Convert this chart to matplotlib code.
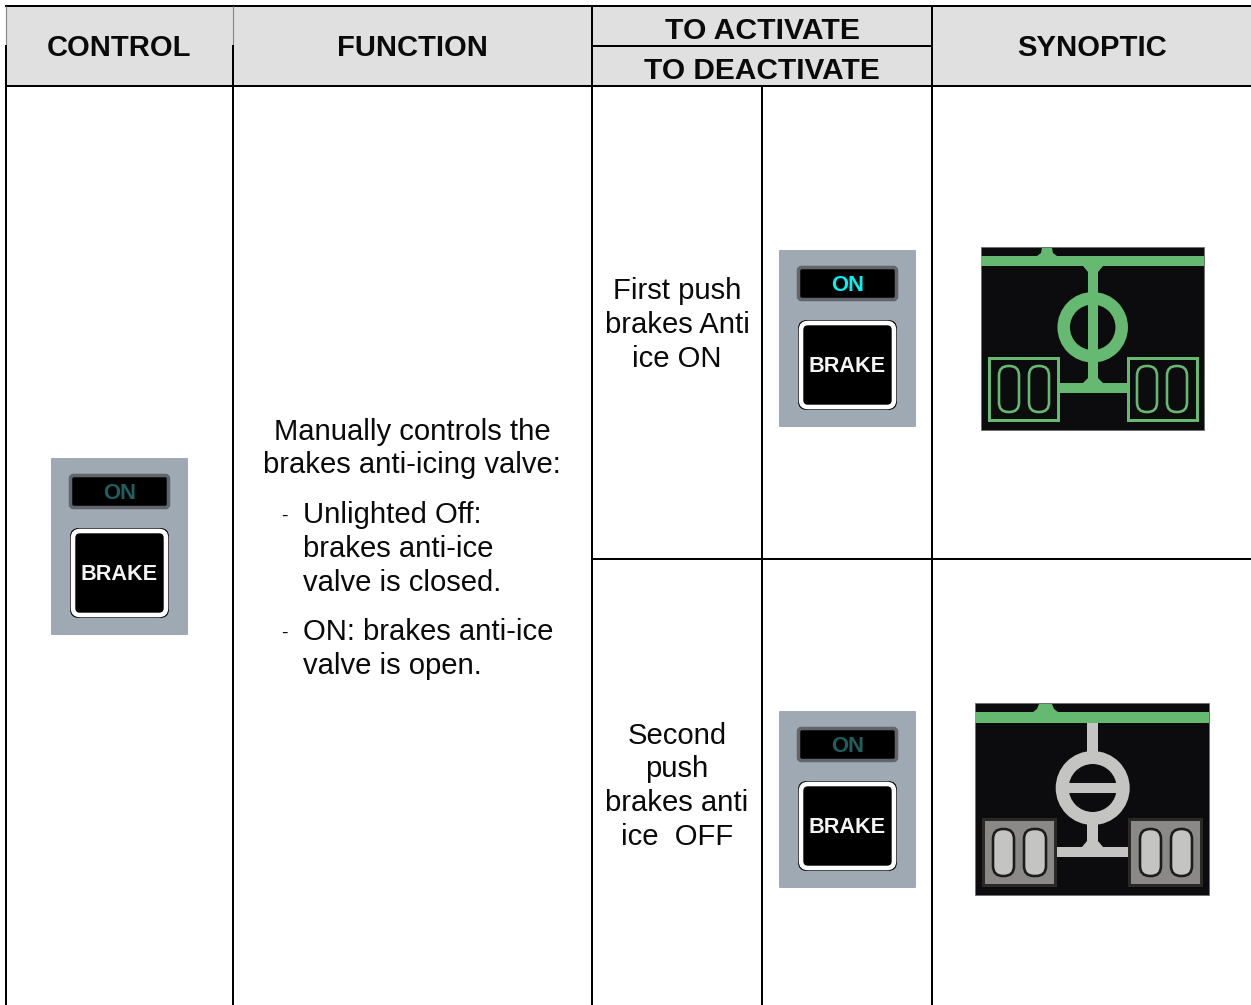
import matplotlib
matplotlib.use("Agg")
import matplotlib.pyplot as plt
from matplotlib.patches import Rectangle, FancyBboxPatch, Circle, Polygon

plt.rcParams['font.family'] = ['Liberation Sans', 'DejaVu Sans']

W, H = 1251, 1005
BLACK = '#000000'
HEAD_BG = '#e0e0e0'
GREEN = '#66b970'
GREY = '#c4c4c2'
DARK = '#0c0c0e'
PANEL = '#9fa9b3'

headers = ["CONTROL", "FUNCTION", "TO ACTIVATE", "TO DEACTIVATE", "SYNOPTIC"]
header_x = [119, 412, 762, 762, 1092.5]
header_y = [46, 46, 29, 69, 46]
header_size = [21.0, 21.0, 21.7, 21.5, 21.1]

function_center = ["Manually controls the", "brakes anti-icing valve:"]
function_center_y = [430, 463]
function_left = ["Unlighted Off:", "brakes anti-ice", "valve is closed.", "ON: brakes anti-ice", "valve is open."]
function_left_y = [513, 547, 581, 630, 664]
dash_y = [516, 633]

activate = ["First push", "brakes Anti", "ice ON"]
activate_y = [289, 323, 357]
deactivate = ["Second", "push", "brakes anti", "ice  OFF"]
deactivate_y = [734, 767, 801, 835]

# left, top, ON colour of each push-button picture
button_x = [51, 779, 779]
button_y = [458, 250, 711]
button_on = ['#1f5f60', '#00f2f2', '#1f5f60']

fig = plt.figure(figsize=(W / 100, H / 100), dpi=100, facecolor='white')
ax = fig.add_axes([0, 0, 1, 1])
ax.set_xlim(0, W)
ax.set_ylim(H, 0)
ax.axis('off')


def rect(x0, y0, x1, y1, fc, ec='none', lw=0, z=3):
    ax.add_patch(Rectangle((x0, y0), x1 - x0, y1 - y0, fc=fc, ec=ec, lw=lw * 0.72, zorder=z))


def rrect(x0, y0, x1, y1, r, fc, ec='none', lw=0, z=3):
    ax.add_patch(FancyBboxPatch((x0 + r, y0 + r), x1 - x0 - 2 * r, y1 - y0 - 2 * r,
                                boxstyle=f"round,pad={r},rounding_size={r}",
                                fc=fc, ec=ec, lw=lw * 0.72, zorder=z))


def poly(pts, fc, z=4):
    ax.add_patch(Polygon(pts, closed=True, fc=fc, ec='none', zorder=z))


def line(xs, ys, color=BLACK, lw=2.0, z=2):
    ax.plot(xs, ys, color=color, lw=lw * 0.72, solid_capstyle='butt', zorder=z)


# header background
rect(6, 6, W, 86, HEAD_BG, z=1)

# table rules
line([5, W], [6, 6])
line([6, W], [86, 86])
line([592, 932], [46, 46])
line([6, 6], [6, 45], '#8c8c8c', 1.2)
line([233, 233], [6, 45], '#8c8c8c', 1.2)
line([6, 6], [45, H])
line([233, 233], [45, H])
line([592, 592], [6, H])
line([932, 932], [6, H])
line([762, 762], [86, H])
line([592, W], [559, 559])

TXT = dict(color='#0a0a0a', zorder=6)
BODY = 21.1
DY = 1.8
for s, x, y, fs in zip(headers, header_x, header_y, header_size):
    ax.text(x, y + DY, s, fontsize=fs, fontweight='bold', ha='center', va='center', **TXT)
for s, y in zip(function_center, function_center_y):
    ax.text(412, y + DY, s, fontsize=BODY, ha='center', va='center', **TXT)
for s, y in zip(function_left, function_left_y):
    ax.text(303, y + DY, s, fontsize=BODY, ha='left', va='center', **TXT)
for y in dash_y:
    ax.text(284, y, "-", fontsize=14, ha='center', va='center', **TXT)
for s, y in zip(activate, activate_y):
    ax.text(677, y + DY, s, fontsize=BODY, ha='center', va='center', **TXT)
for s, y in zip(deactivate, deactivate_y):
    ax.text(677, y + DY, s, fontsize=BODY, ha='center', va='center', **TXT)


def button(x0, y0, on_color):
    rrect(x0, y0, x0 + 137, y0 + 177, 1, PANEL)
    rrect(x0 + 19.5, y0 + 17.5, x0 + 117.5, y0 + 49.5, 3, '#000000', ec='#62666a', lw=3.5, z=4)
    ax.text(x0 + 69, y0 + 35, "ON", color=on_color, fontsize=15.8, fontweight='bold',
            ha='center', va='center', zorder=6)
    rrect(x0 + 19, y0 + 70, x0 + 118, y0 + 160, 9, '#000000', z=4)
    rrect(x0 + 22, y0 + 73, x0 + 115, y0 + 157, 7, '#000000', ec='white', lw=4.6, z=5)
    ax.text(x0 + 68, y0 + 116.5, "BRAKE", color='#f4f4f4', fontsize=15.6, fontweight='bold',
            ha='center', va='center', zorder=6)


for bx, by, col in zip(button_x, button_y, button_on):
    button(bx, by, col)

# synoptic, valve open
rect(981, 247, 1204, 430, DARK, ec='#6b6b6b', lw=0.8, z=3)
rect(981, 256, 1204, 266, GREEN, z=4)
poly([(1037, 256), (1041, 253), (1042, 248), (1052, 248), (1053, 253), (1057, 256)], GREEN)
rect(1088, 266, 1098, 393, GREEN, z=4)
poly([(1083, 266), (1103, 266), (1098, 272), (1088, 272)], GREEN)
poly([(1083, 383), (1103, 383), (1098, 378), (1088, 378)], GREEN)
ax.add_patch(Circle((1092.7, 327.3), 29, fc='none', ec=GREEN, lw=12.5 * 0.72, zorder=4))
rect(1059, 383, 1127, 393, GREEN, z=4)
for x0, x1 in [(989, 1058), (1128, 1197)]:
    rect(x0, 358, x1, 420, 'none', ec=GREEN, lw=3, z=4)
for x0, x1 in [(999, 1019), (1029, 1049), (1137, 1157), (1167, 1187)]:
    rrect(x0, 366, x1, 412, 9.5, 'none', ec=GREEN, lw=2.6, z=4)

# synoptic, valve closed
rect(975, 703, 1209, 895, DARK, ec='#6b6b6b', lw=0.8, z=3)
rect(975, 712, 1209, 723, GREEN, z=5)
poly([(1033, 712), (1037, 709), (1039, 704), (1052, 704), (1054, 709), (1058, 712)], GREEN, z=5)
rect(1087, 723, 1098, 755, GREY, z=4)
rect(1087, 820, 1098, 857, GREY, z=4)
poly([(1082, 847), (1103, 847), (1098, 841), (1087, 841)], GREY)
ax.add_patch(Circle((1092.7, 788), 30.5, fc='none', ec=GREY, lw=13 * 0.72, zorder=4))
rect(1063, 783, 1122, 793, GREY, z=4)
rect(1057, 847, 1128, 857, GREY, z=4)
for x0, x1 in [(982, 1057), (1128, 1203)]:
    rect(x0, 818, x1, 887, '#2a2926', z=4)
    rect(x0 + 3, 821, x1 - 3, 884, '#8a8987', z=4)
for x0, x1 in [(993, 1014), (1024, 1046), (1140, 1161), (1171, 1192)]:
    rrect(x0, 829, x1, 876, 10, GREY, ec='#1c1c1c', lw=2.6, z=5)

fig.savefig('out.png', dpi=100, facecolor='white')
